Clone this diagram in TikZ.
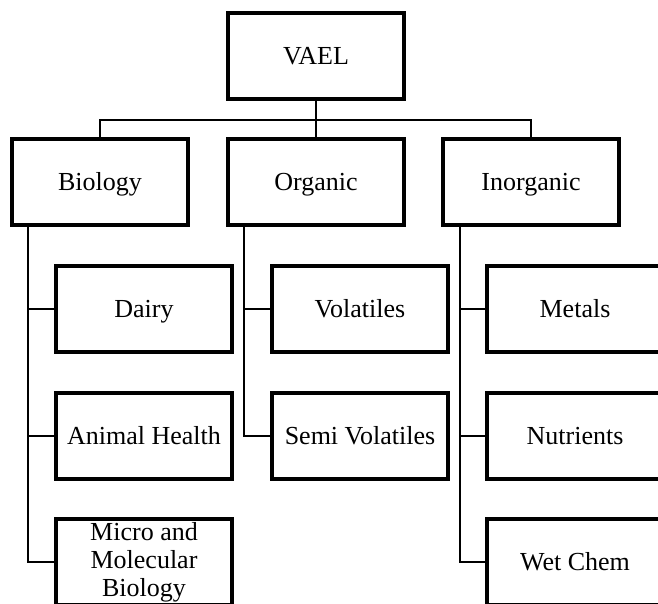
\documentclass[tikz,border=0pt]{standalone}
\usepackage{fontspec}
\setmainfont{Liberation Serif}
\begin{document}
\begin{tikzpicture}[x=1pt,y=-1pt,
  boxbase/.style={draw, line width=4pt, minimum width=176pt, minimum height=86pt, inner sep=0pt, outer sep=0pt, align=center, font=\fontsize{26}{28}\selectfont},
  box/.style={boxbase, text height=17pt, text depth=0pt},
  conn/.style={line width=2pt}]
\useasboundingbox (0,0) rectangle (658,604);
\clip (0,0) rectangle (658,604);
% nodes
\node[box] (vael) at (316,56) {VAEL};
\node[box] (bio) at (100,182) {Biology};
\node[box] (org) at (316,182) {Organic};
\node[box] (inorg) at (531,182) {Inorganic};
\node[box] (dairy) at (144,309) {Dairy};
\node[box] (animal) at (144,436) {Animal Health};
\node[boxbase] (micro) at (144,562) {Micro and\\Molecular\\Biology};
\node[box] (vol) at (360,309) {Volatiles};
\node[box] (semi) at (360,436) {Semi Volatiles};
\node[box] (metals) at (575,309) {Metals};
\node[box] (nutr) at (575,436) {Nutrients};
\node[box] (wet) at (575,562) {Wet Chem};
% top connectors
\coordinate (bus) at (316,120);
\draw[conn] (vael.south) -- (bus);
\draw[conn] (bio.north) |- (bus) -| (inorg.north);
\draw[conn] (org.north) -- (bus);
% branch coordinates
\coordinate (bt) at ([xshift=16pt]bio.south west);
\coordinate (ot) at ([xshift=16pt]org.south west);
\coordinate (it) at ([xshift=17pt]inorg.south west);
\draw[conn] (bt) |- (micro.west);
\draw[conn] (bt |- dairy.west) -- (dairy.west);
\draw[conn] (bt |- animal.west) -- (animal.west);
\draw[conn] (ot) |- (semi.west);
\draw[conn] (ot |- vol.west) -- (vol.west);
\draw[conn] (it) |- (wet.west);
\draw[conn] (it |- metals.west) -- (metals.west);
\draw[conn] (it |- nutr.west) -- (nutr.west);
\end{tikzpicture}
\end{document}
